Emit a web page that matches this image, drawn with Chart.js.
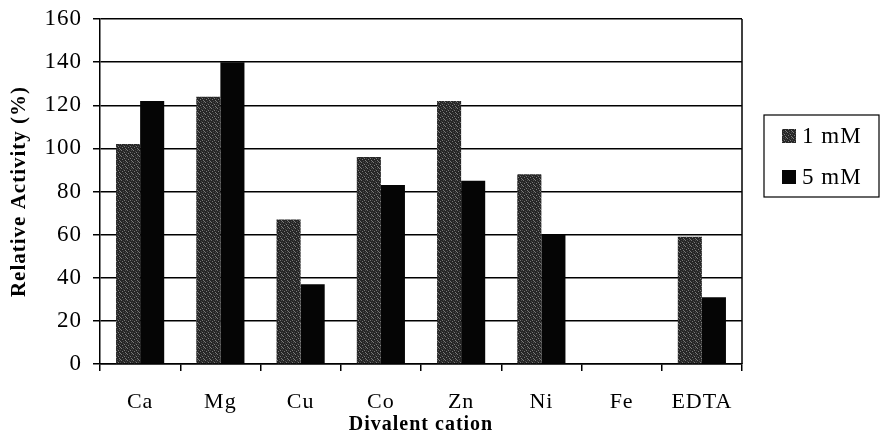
<!DOCTYPE html>
<html>
<head>
<meta charset="utf-8">
<script src="https://cdn.jsdelivr.net/npm/chart.js@4.4.1/dist/chart.umd.min.js"></script>
<style>
html,body{margin:0;padding:0;background:#fff;}
#wrap{width:884px;height:440px;position:relative;}
</style>
</head>
<body>
<div id="wrap"><canvas id="c" width="884" height="440"></canvas></div>
<script>
const categories = ['Ca','Mg','Cu','Co','Zn','Ni','Fe','EDTA'];
const series1mM = [102, 124, 67, 96, 122, 88, 0, 59];
const series5mM = [122, 140, 37, 83, 85, 60, 0, 31];
const seriesNames = ['1 mM','5 mM'];
const yTicks = [0,20,40,60,80,100,120,140,160];

function makePattern(){
  const p = document.createElement('canvas');
  p.width = 6; p.height = 6;
  const g = p.getContext('2d');
  g.fillStyle = '#262626'; g.fillRect(0,0,6,6);
  g.fillStyle = '#7a7a7a';
  [[1,0],[4,2],[2,3],[0,5],[5,4]].forEach(([x,y])=>g.fillRect(x,y,1,1));
  g.fillStyle = '#4a4a4a';
  [[3,1],[0,2],[5,0],[3,5]].forEach(([x,y])=>g.fillRect(x,y,1,1));
  return g.createPattern(p,'repeat');
}
const ctx = document.getElementById('c').getContext('2d');
const pat = makePattern();

const spacing = {
  id:'spacing',
  beforeDraw(chart){ chart.ctx.letterSpacing = '1px'; }
};

const frame = {
  id:'frame',
  afterDraw(chart){
    const a = chart.chartArea, g = chart.ctx;
    g.save();
    g.strokeStyle = '#000'; g.lineWidth = 1.5;
    g.beginPath(); g.moveTo(a.right, a.top); g.lineTo(a.right, a.bottom); g.stroke();
    // legend
    const lx = 764, ly = 115, lw = 115, lh = 82;
    g.lineWidth = 1.2;
    g.strokeRect(lx, ly, lw, lh);
    g.font = '23px "Liberation Serif"';
    g.letterSpacing = '1px';
    g.textBaseline = 'middle'; g.textAlign = 'left';
    chart.data.datasets.forEach((ds,i)=>{
      const cy = ly + 21 + i*41;
      g.fillStyle = ds.backgroundColor;
      g.fillRect(lx+18, cy-7, 14, 14);
      g.fillStyle = '#000';
      g.fillText(ds.label, lx+38, cy+1);
    });
    g.restore();
  }
};

new Chart(ctx, {
  type:'bar',
  data:{
    labels: categories,
    datasets:[
      {label: seriesNames[0], data: series1mM, backgroundColor: pat, borderWidth:0},
      {label: seriesNames[1], data: series5mM, backgroundColor: '#050505', borderWidth:0}
    ]
  },
  options:{
    responsive:false, animation:false,
    layout:{padding:{top:19,right:142,bottom:0,left:0}},
    plugins:{legend:{display:false}, tooltip:{enabled:false}},
    datasets:{bar:{categoryPercentage:0.6, barPercentage:1.0}},
    scales:{
      x:{
        grid:{display:true, drawOnChartArea:false, drawTicks:true, tickLength:7, offset:true, color:'#000', lineWidth:1.5},
        border:{display:true, color:'#000', width:1.5},
        ticks:{color:'#000', font:{family:'"Liberation Serif"', size:22}, padding:18},
        title:{display:true, text:'Divalent cation', color:'#000', font:{family:'"Liberation Serif"', size:20, weight:'bold'}, padding:{top:0,bottom:3}},
        afterFit(s){ s.height = 76; s.paddingLeft = 0; s.paddingRight = 0; }
      },
      y:{
        min:0, max:160,
        afterBuildTicks(s){ s.ticks = yTicks.map(v=>({value:v})); },
        grid:{color:'#000', lineWidth:1.5, tickLength:7, drawTicks:true},
        border:{display:true, color:'#000', width:1.5},
        ticks:{color:'#000', font:{family:'"Liberation Serif"', size:23}, padding:11},
        title:{display:true, text:'Relative Activity (%)', color:'#000', font:{family:'"Liberation Serif"', size:21, weight:'bold'}, padding:{top:7,bottom:0}},
        afterFit(s){ s.width = 100; s.paddingTop = 0; s.paddingBottom = 0; }
      }
    }
  },
  plugins:[spacing, frame]
});
</script>
</body>
</html>
